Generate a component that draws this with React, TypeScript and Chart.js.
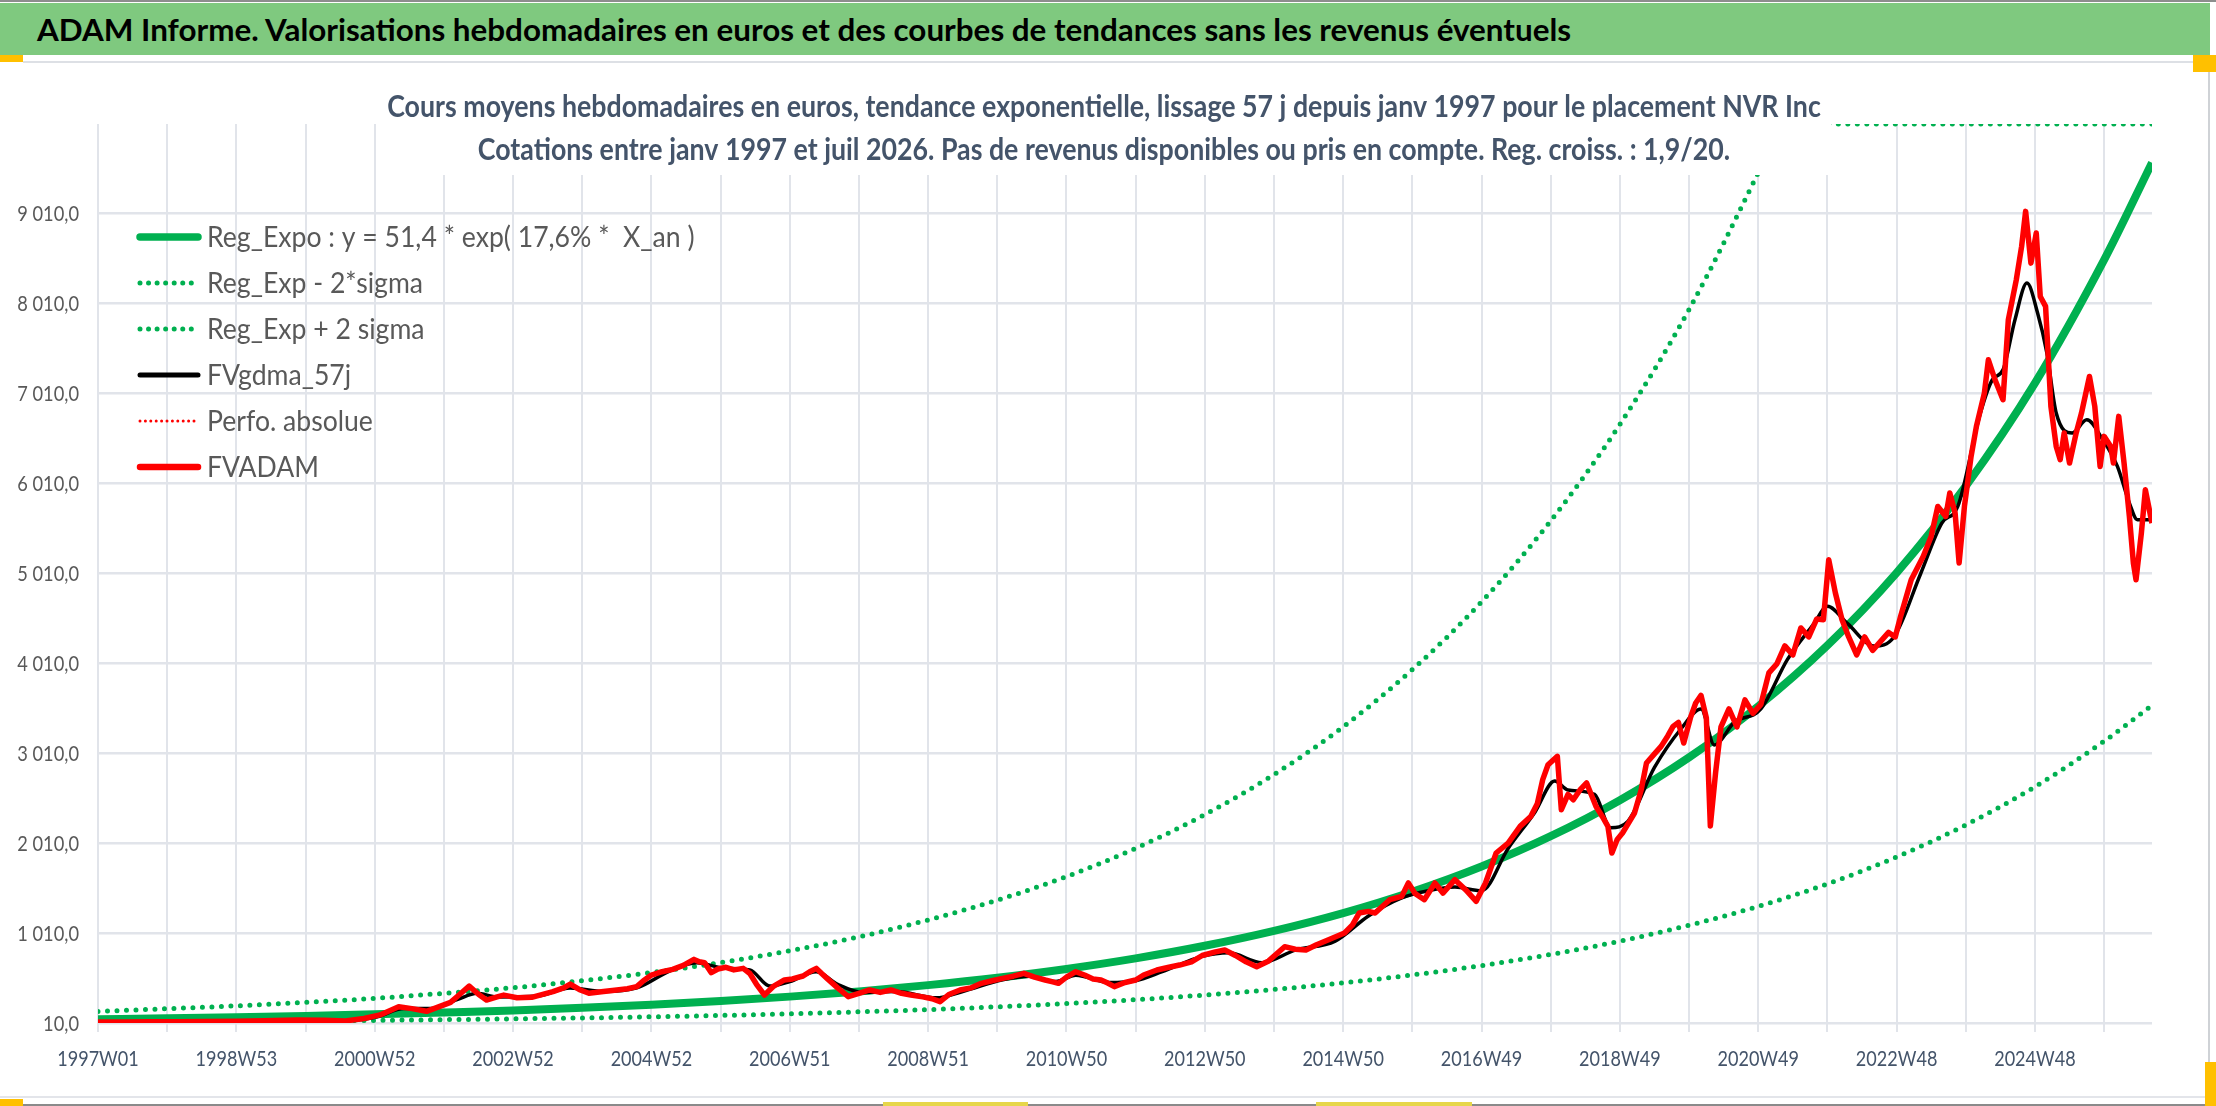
import React, { useEffect, useRef } from "react";
import { Chart, registerables } from "chart.js";

Chart.register(...registerables);

const FONT = "Lato, 'Open Sans', sans-serif";

const bannerTitle =
  "ADAM Informe. Valorisations hebdomadaires en euros et des courbes de tendances sans les revenus éventuels";
const subtitleLines = [
  "Cours moyens hebdomadaires en euros, tendance exponentielle, lissage 57 j depuis janv 1997 pour le placement NVR Inc",
  "Cotations entre janv 1997 et juil 2026. Pas de revenus disponibles ou pris en compte. Reg. croiss. : 1,9/20.",
];

// x axis = week index since 1997W01, one grid line per 52 weeks, a label every 104
const xTickLabels = [
  "1997W01", "1998W53", "2000W52", "2002W52", "2004W52", "2006W51", "2008W51", "2010W50",
  "2012W50", "2014W50", "2016W49", "2018W49", "2020W49", "2022W48", "2024W48",
];
const gridWeeks = [
  0, 52, 104, 156, 208, 260, 312, 364, 416, 468, 520, 572, 624, 676, 728, 780, 832, 884, 936,
  988, 1040, 1092, 1144, 1196, 1248, 1300, 1352, 1404, 1456, 1508,
];
const yTicks = [10, 1010, 2010, 3010, 4010, 5010, 6010, 7010, 8010, 9010];

// trend curves
const trendWeeks = [
  0, 52, 104, 156, 208, 260, 312, 364, 416, 468, 520, 572, 624, 676, 728, 780, 832, 884, 936,
  988, 1040, 1092, 1144, 1196, 1248, 1300, 1352, 1404, 1456, 1508, 1544,
];
const regExpo = [
  52, 63, 75, 89, 106, 127, 150, 179, 213, 254, 303, 361, 431, 513, 611, 728, 868, 1034, 1232,
  1469, 1750, 2086, 2486, 2962, 3530, 4206, 5013, 5975, 7120, 8490, 9570,
];
const regLow = [
  19, 23, 28, 33, 39, 47, 56, 66, 79, 94, 112, 134, 159, 190, 226, 269, 321, 383, 456, 544, 648,
  772, 920, 1096, 1306, 1556, 1855, 2211, 2634, 3141, 3541,
];
const highWeeks = [
  0, 52, 104, 156, 208, 260, 312, 364, 416, 468, 520, 572, 624, 676, 728, 780, 832, 884, 936,
  988, 1040, 1092, 1144, 1196, 1248, 1265, 1300, 1352, 1404, 1456, 1508, 1544,
];
const regHigh = [
  139, 169, 201, 239, 284, 340, 402, 480, 571, 681, 812, 967, 1155, 1375, 1637, 1951, 2326, 2771,
  3302, 3937, 4690, 5590, 6662, 7938, 9460, 10000, 10000, 10000, 10000, 10000, 10000, 10000,
];

// weekly valuation FVADAM
const fvWeeks = [
  0, 20, 40, 60, 80, 104, 125, 150, 170, 186, 200, 212, 226, 236, 247, 256, 265, 272, 279, 286,
  292, 300, 305, 315, 326, 335, 342, 350, 355, 362, 369, 380, 390, 398, 405, 410, 416, 424, 432,
  440, 448, 452, 456, 461, 466, 472, 478, 485, 490, 495, 501, 508, 516, 522, 530, 535, 540, 544,
  548, 556, 564, 572, 580, 588, 596, 604, 611, 620, 627, 633, 640, 648, 656, 664, 672, 680, 688,
  696, 704, 712, 717, 722, 728, 735, 742, 748, 754, 759, 764, 772, 780, 786, 796, 805, 813, 822,
  830, 840, 847, 855, 863, 871, 880, 892, 900, 908, 916, 925, 937, 943, 948, 955, 960, 971, 980,
  985, 990, 997, 1005, 1011, 1020, 1028, 1036, 1043, 1051, 1060, 1069, 1077, 1082, 1086, 1090,
  1097, 1100, 1105, 1109, 1114, 1119, 1126, 1131, 1135, 1138, 1142, 1146, 1155, 1160, 1164, 1170,
  1175, 1180, 1184, 1188, 1192, 1197, 1201, 1205, 1209, 1212, 1216, 1220, 1226, 1232, 1238, 1244,
  1250, 1256, 1262, 1268, 1274, 1280, 1286, 1292, 1297, 1301, 1306, 1311, 1316, 1322, 1328, 1334,
  1340, 1346, 1351, 1355, 1363, 1372, 1378, 1383, 1389, 1392, 1396, 1399, 1403, 1408, 1412, 1418,
  1421, 1426, 1432, 1436, 1442, 1446, 1449, 1453, 1457, 1460, 1464, 1468, 1472, 1475, 1478, 1482,
  1487, 1491, 1497, 1501, 1505, 1508, 1513, 1515, 1519, 1523, 1527, 1530, 1532, 1536, 1539, 1544,
];
const fvadam = [
  20, 22, 24, 23, 26, 30, 35, 42, 40, 33, 60, 100, 190, 170, 140, 190, 240, 330, 420, 330, 265,
  300, 320, 290, 295, 330, 358, 400, 443, 380, 340, 360, 377, 390, 414, 480, 543, 580, 606, 650,
  717, 690, 680, 569, 610, 629, 600, 617, 560, 440, 321, 420, 488, 500, 532, 580, 617, 560, 506,
  400, 303, 340, 377, 350, 377, 340, 321, 300, 280, 247, 330, 377, 400, 451, 480, 506, 530, 562,
  520, 488, 470, 451, 520, 580, 540, 500, 488, 454, 414, 460, 488, 543, 599, 630, 654, 690, 760,
  800, 821, 760, 690, 636, 700, 858, 830, 821, 880, 936, 1010, 1100, 1232, 1250, 1232, 1380,
  1417, 1566, 1450, 1380, 1566, 1454, 1603, 1492, 1362, 1566, 1899, 2010, 2195, 2306, 2450, 2714,
  2880, 2973, 2380, 2550, 2491, 2600, 2677, 2418, 2300, 2195, 1899, 2050, 2121, 2343, 2600, 2899,
  3000, 3084, 3200, 3306, 3350, 3121, 3400, 3566, 3650, 3400, 2200, 2800, 3300, 3500, 3300, 3600,
  3450, 3550, 3900, 4000, 4200, 4100, 4400, 4300, 4500, 4492, 5158, 4788, 4491, 4300, 4100, 4300,
  4150, 4250, 4350, 4300, 4528, 4936, 5195, 5417, 5750, 5639, 5899, 5677, 5121, 5750, 6306, 6640,
  7010, 7380, 7158, 6936, 7825, 8269, 8640, 9029, 8454, 8788, 8084, 7973, 6862, 6417, 6270, 6566,
  6232, 6566, 6788, 7195, 6862, 6195, 6529, 6417, 6232, 6751, 6232, 5640, 5121, 4936, 5454, 5936,
  5565,
];

// 57-day moving average FVgdma_57j
const maWeeks = [
  0, 52, 104, 156, 186, 210, 230, 250, 270, 285, 300, 330, 355, 380, 405, 430, 450, 470, 490, 505,
  520, 540, 556, 575, 600, 630, 650, 680, 700, 720, 735, 760, 780, 800, 830, 850, 875, 900, 930,
  955, 980, 1000, 1020, 1040, 1060, 1080, 1095, 1105, 1125, 1137, 1150, 1170, 1190, 1205, 1215,
  1230, 1250, 1270, 1290, 1300, 1315, 1335, 1350, 1370, 1386, 1398, 1415, 1424, 1432, 1441, 1450,
  1458, 1465, 1472, 1484, 1495, 1507, 1518, 1527, 1533, 1544,
];
const fvgdma = [
  20, 24, 30, 40, 36, 80, 170, 170, 270, 340, 300, 310, 400, 360, 400, 590, 680, 620, 600, 420,
  470, 580, 440, 350, 360, 290, 360, 490, 530, 470, 540, 460, 480, 580, 750, 790, 680, 820, 920,
  1200, 1400, 1480, 1520, 1480, 1950, 2350, 2700, 2600, 2550, 2180, 2250, 2850, 3280, 3500, 3100,
  3350, 3500, 4050, 4450, 4640, 4450, 4200, 4300, 5000, 5565, 5750, 6788, 7158, 7269, 7825, 8232,
  7899, 7454, 6788, 6566, 6714, 6492, 6195, 5788, 5603, 5603,
];

const legendLabels = [
  "Reg_Expo : y = 51,4 * exp( 17,6% *  X_an )",
  "Reg_Exp - 2*sigma",
  "Reg_Exp + 2 sigma",
  "FVgdma_57j",
  "Perfo. absolue",
  "FVADAM",
];

const pts = (xs: number[], ys: number[]) => xs.map((x, i) => ({ x, y: ys[i] }));

function fmtFr(v: number) {
  if (v >= 1000) return `${Math.floor(v / 1000)} ${String(v % 1000).padStart(3, "0")},0`;
  return `${v},0`;
}

function squeezed(ctx: CanvasRenderingContext2D, text: string, x: number, y: number, sx: number, align: CanvasTextAlign) {
  ctx.save();
  ctx.translate(x, y);
  ctx.scale(sx, 1);
  ctx.textAlign = align;
  ctx.textBaseline = "alphabetic";
  ctx.fillText(text, 0, 0);
  ctx.restore();
}

const decorPlugin = {
  id: "decor",
  afterDraw(chart: any) {
    const ctx: CanvasRenderingContext2D = chart.ctx;
    const xs = chart.scales.x;
    const ys = chart.scales.y;
    ctx.save();

    // title box sits over the plot, hiding what runs under it
    ctx.fillStyle = "#ffffff";
    ctx.fillRect(378, 64, 1831 - 378, 175 - 64);
    ctx.fillStyle = "#44546a";
    ctx.font = `bold 30px ${FONT}`;
    squeezed(ctx, subtitleLines[0], 1104, 117, 0.892, "center");
    squeezed(ctx, subtitleLines[1], 1104, 160, 0.892, "center");

    // y tick labels
    ctx.font = `21.5px ${FONT}`;
    ctx.fillStyle = "#595959";
    yTicks.forEach((v) => squeezed(ctx, fmtFr(v), 79, ys.getPixelForValue(v) + 7.7, 0.85, "right"));

    // x tick labels
    ctx.fillStyle = "#44546a";
    xTickLabels.forEach((lab, i) =>
      squeezed(ctx, lab, xs.getPixelForValue(i * 104), 1066, 0.84, "center")
    );

    // legend
    const rowY = [237, 283, 329, 375, 421, 467];
    const sampleW = [7.5, 5, 5, 5, 3, 6.5];
    const order = [3, 4, 5, 2, 1, 0];
    order.forEach((di, row) => {
      const ds = chart.data.datasets[di];
      const y = rowY[row];
      ctx.save();
      ctx.beginPath();
      ctx.strokeStyle = ds.borderColor;
      ctx.lineWidth = sampleW[row];
      ctx.lineCap = "round";
      ctx.setLineDash(ds.borderDash ? [0, ds.borderDash[1] * 0.9] : []);
      ctx.moveTo(140, y);
      ctx.lineTo(198, y);
      ctx.stroke();
      ctx.restore();
      ctx.font = `28px ${FONT}`;
      ctx.fillStyle = "#595959";
      squeezed(ctx, legendLabels[row], 207, y + 10, 0.95, "left");
    });

    ctx.restore();
  },
};

function TrendChart() {
  const canvasRef = useRef<HTMLCanvasElement | null>(null);

  useEffect(() => {
    let chart: Chart | null = null;
    if (canvasRef.current) {
      const green = "#00b050";
      chart = new Chart(canvasRef.current, {
        type: "line",
        data: {
          datasets: [
            {
              label: "FVADAM",
              data: pts(fvWeeks, fvadam),
              borderColor: "#ff0000",
              borderWidth: 5.5,
              borderJoinStyle: "round",
              pointRadius: 0,
              tension: 0,
              order: 0,
            },
            {
              label: "Perfo. absolue",
              data: pts(fvWeeks, fvadam),
              borderColor: "#ff0000",
              borderWidth: 3,
              borderDash: [0, 6],
              borderCapStyle: "round",
              pointRadius: 0,
              tension: 0,
              order: 1,
            },
            {
              label: "FVgdma_57j",
              data: pts(maWeeks, fvgdma),
              borderColor: "#000000",
              borderWidth: 3.5,
              pointRadius: 0,
              cubicInterpolationMode: "monotone",
              order: 2,
            },
            {
              label: "Reg_Expo",
              data: pts(trendWeeks, regExpo),
              borderColor: green,
              borderWidth: 8,
              pointRadius: 0,
              cubicInterpolationMode: "monotone",
              order: 3,
            },
            {
              label: "Reg_Exp - 2*sigma",
              data: pts(trendWeeks, regLow),
              borderColor: green,
              borderWidth: 5,
              borderDash: [0, 9.5],
              borderCapStyle: "round",
              pointRadius: 0,
              cubicInterpolationMode: "monotone",
              order: 4,
            },
            {
              label: "Reg_Exp + 2 sigma",
              data: pts(highWeeks, regHigh),
              borderColor: green,
              borderWidth: 5,
              borderDash: [0, 9.5],
              borderCapStyle: "round",
              pointRadius: 0,
              cubicInterpolationMode: "monotone",
              order: 5,
            },
          ],
        },
        options: {
          animation: false,
          responsive: true,
          maintainAspectRatio: false,
          layout: { padding: { left: 98, right: 64, top: 124, bottom: 74 } },
          plugins: {
            legend: { display: false },
            title: { display: false },
            tooltip: { enabled: false },
          },
          scales: {
            x: {
              type: "linear",
              min: 0,
              max: 1544,
              afterBuildTicks: (s: any) => {
                s.ticks = gridWeeks.map((v) => ({ value: v }));
              },
              ticks: { display: false },
              grid: {
                color: "#e1e4ea",
                lineWidth: 2,
                drawTicks: true,
                tickLength: 9,
                tickColor: "#e1e4ea",
              },
              border: { display: false },
            },
            y: {
              type: "linear",
              min: 10,
              max: 10000,
              afterBuildTicks: (s: any) => {
                s.ticks = yTicks.map((v) => ({ value: v }));
              },
              ticks: { display: false },
              grid: { color: "#e1e4ea", lineWidth: 2.5, drawTicks: false },
              border: { display: false },
            },
          },
        },
        plugins: [decorPlugin],
      } as any);
    }
    return () => {
      if (chart) chart.destroy();
    };
  }, []);

  return (
    <div style={{ position: "absolute", left: 0, top: 0, width: 2216, height: 1106 }}>
      <canvas ref={canvasRef} />
    </div>
  );
}

export default function App() {
  const box = (s: React.CSSProperties) => <div style={{ position: "absolute", ...s }} />;
  return (
    <div
      style={{
        position: "absolute",
        left: 0,
        top: 0,
        width: 2216,
        height: 1106,
        background: "#ffffff",
        overflow: "hidden",
        fontFamily: FONT,
      }}
    >
      {box({ left: 0, top: 0, width: 2216, height: 2, background: "#8d8d8d" })}
      <div
        style={{
          position: "absolute",
          left: 0,
          top: 3,
          width: 2210,
          height: 52,
          background: "#7fc97f",
        }}
      >
        <div
          style={{
            position: "absolute",
            left: 37,
            top: 0,
            lineHeight: "52px",
            fontSize: 31.4,
            fontWeight: 700,
            color: "#000000",
            whiteSpace: "nowrap",
          }}
        >
          {bannerTitle}
        </div>
      </div>
      {box({ left: 23, top: 61, width: 2170, height: 2, background: "#dde0e5" })}
      {box({ left: 2208, top: 62, width: 2, height: 1036, background: "#cfd2d6" })}
      {box({ left: 0, top: 1096, width: 2210, height: 2, background: "#e3e5ea" })}
      {box({ left: 0, top: 1104, width: 2216, height: 2, background: "#8a8a8a" })}
      {box({ left: 0, top: 55, width: 23, height: 7, background: "#ffc000" })}
      {box({ left: 2193, top: 55, width: 23, height: 17, background: "#ffc000" })}
      {box({ left: 0, top: 1099, width: 23, height: 7, background: "#ffc000" })}
      {box({ left: 2205, top: 1062, width: 11, height: 44, background: "#ffc000" })}
      {box({ left: 883, top: 1102, width: 145, height: 4, background: "#e6d64a" })}
      {box({ left: 1316, top: 1102, width: 156, height: 4, background: "#e6d64a" })}
      <TrendChart />
    </div>
  );
}
